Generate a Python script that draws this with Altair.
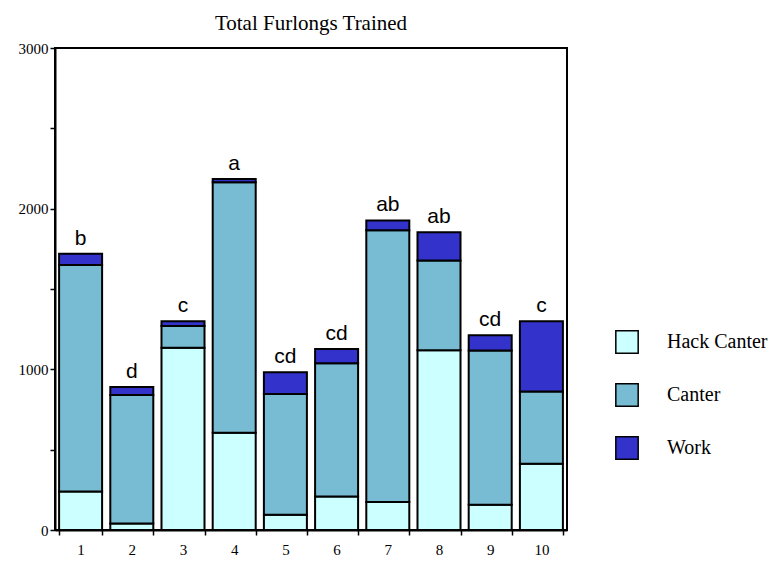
import altair as alt
import pandas as pd

groups = ["1", "2", "3", "4", "5", "6", "7", "8", "9", "10"]
hack = [240, 40, 1135, 605, 95, 208, 175, 1118, 157, 412]
canter = [1410, 800, 135, 1560, 752, 830, 1690, 560, 960, 450]
work = [70, 50, 30, 20, 135, 88, 62, 175, 95, 438]
letters = ["b", "d", "c", "a", "cd", "cd", "ab", "ab", "cd", "c"]
series = ["Hack Canter", "Canter", "Work"]
colors = ["#CCFFFF", "#77BCD2", "#3333CC"]

rows = []
for i, g in enumerate(groups):
    for k, (name, vals) in enumerate(zip(series, [hack, canter, work])):
        rows.append({"group": g, "series": name, "value": vals[i], "ord": k})
df = pd.DataFrame(rows)

tot = pd.DataFrame({
    "group": groups,
    "total": [h + c + w for h, c, w in zip(hack, canter, work)],
    "letter": letters,
})

serif = "Liberation Serif"
sans = "Liberation Sans"

xenc = alt.X(
    "group:N", sort=groups,
    scale=alt.Scale(paddingInner=0.16, paddingOuter=0.08),
    axis=alt.Axis(title=None, labelAngle=0, labelFont=serif, labelFontSize=15,
                  labelColor="black", tickBand="extent", domainColor="black",
                  domainWidth=2, tickColor="black", tickWidth=1.5, tickSize=5,
                  labelPadding=7),
)

bars = alt.Chart(df).mark_bar(stroke="black", strokeWidth=2).encode(
    x=xenc,
    y=alt.Y("value:Q", stack="zero",
            scale=alt.Scale(domain=[0, 3000], nice=False),
            axis=alt.Axis(title=None, values=list(range(0, 3001, 500)),
                          labelExpr="datum.value % 1000 == 0 ? datum.label : ''",
                          format="d", grid=False, labelFont=serif, labelFontSize=15,
                          labelColor="black", domainColor="black", domainWidth=2,
                          tickColor="black", tickWidth=1.5, tickSize=5, labelPadding=2)),
    color=alt.Color("series:N", sort=series,
                    scale=alt.Scale(domain=series, range=colors),
                    legend=alt.Legend(title=None, orient="none", legendX=560, legendY=282,
                                      symbolType="square", symbolSize=500,
                                      symbolStrokeColor="black", symbolStrokeWidth=1.5,
                                      symbolOpacity=1,
                                      labelFont=serif, labelFontSize=20, labelColor="black",
                                      rowPadding=23, labelOffset=28)),
    order=alt.Order("ord:Q", sort="ascending"),
)

text = alt.Chart(tot).mark_text(font=sans, fontSize=21, baseline="bottom", dy=-5,
                                color="black").encode(
    x=alt.X("group:N", sort=groups),
    y=alt.Y("total:Q"),
    text="letter:N",
)

chart = alt.layer(bars, text).properties(
    width=512, height=482,
    autosize=alt.AutoSizeParams(type="none"),
    padding={"left": 47, "top": 40, "right": 208, "bottom": 27},
    title=alt.TitleParams("Total Furlongs Trained", font=serif, fontSize=21,
                          fontWeight="normal", color="black", offset=7),
).configure_view(stroke="black", strokeWidth=2)

chart.save("out.html", embed_options={"renderer": "svg", "actions": False})
